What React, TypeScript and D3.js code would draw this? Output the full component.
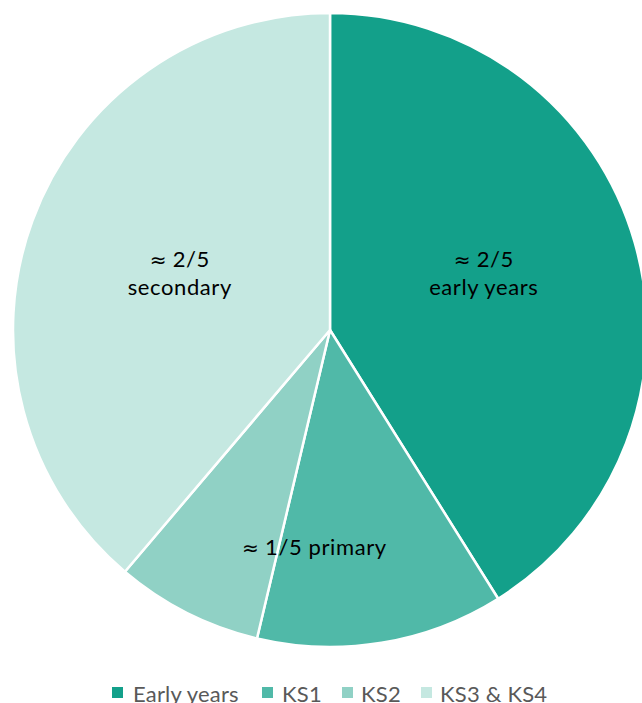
import React from "react";
import * as d3 from "d3";

const categories = ["Early years", "KS1", "KS2", "KS3 & KS4"];
const shares = [0.411, 0.126, 0.075, 0.388];
const colors = ["#13a08a", "#50b9a8", "#90d1c5", "#c5e8e1"];

const W = 642;
const H = 703;
const cx = 330;
const cy = 330;
const radius = 317;

const font = "Lato, 'Open Sans', sans-serif";
const mathFont = "'DejaVu Sans', sans-serif";

const Approx = ({ x, y, rest }) => (
    <text x={x} y={y}>
        <tspan fontFamily={mathFont} fontSize={20} letterSpacing={0}>≈</tspan>
        <tspan> {rest}</tspan>
    </text>
);

const App = () => {
    const pie = d3.pie<number>().value((d) => d).sort(null);
    const arcs = pie(shares);
    const arc = d3.arc<d3.PieArcDatum<number>>().innerRadius(0).outerRadius(radius);

    // label x from the slice mid-angle, both big labels share one row
    const midX = (a0: number, a1: number, r: number) => Math.sin((a0 + a1) / 2) * r;
    const earlyX = midX(arcs[0].startAngle, arcs[0].endAngle, 160);
    const secX = midX(arcs[3].startAngle, arcs[3].endAngle, 160);
    const primX = midX(arcs[1].startAngle, arcs[2].endAngle, 216);

    const legendX = [112, 262, 342, 421];
    const legendGap = [21, 20, 19, 19];

    return (
        <svg width={W} height={H} style={{ position: "absolute", left: 0, top: 0 }}>
            <rect width={W} height={H} fill="#fff" />
            <g transform={`translate(${cx},${cy})`}>
                {arcs.map((d, i) => (
                    <path key={i} d={arc(d) || ""} fill={colors[i]} stroke="#fff" strokeWidth={2.5} strokeLinejoin="round" />
                ))}
                <g fontFamily={font} fontSize={22} letterSpacing={0.6} fill="#000" textAnchor="middle">
                    <Approx x={earlyX} y={-63} rest="2/5" />
                    <text x={earlyX} y={-35}>early years</text>
                    <Approx x={secX} y={-63} rest="2/5" />
                    <text x={secX} y={-35}>secondary</text>
                    <Approx x={primX} y={225} rest="1/5 primary" />
                </g>
            </g>
            <g fontFamily={font} fontSize={22} letterSpacing={0.2} fill="#595959">
                {categories.map((c, i) => (
                    <g key={c} transform={`translate(${legendX[i]},0)`}>
                        <rect x={0} y={687} width={11} height={11} fill={colors[i]} />
                        <text x={legendGap[i]} y={702}>{c}</text>
                    </g>
                ))}
            </g>
        </svg>
    );
};

export default App;
